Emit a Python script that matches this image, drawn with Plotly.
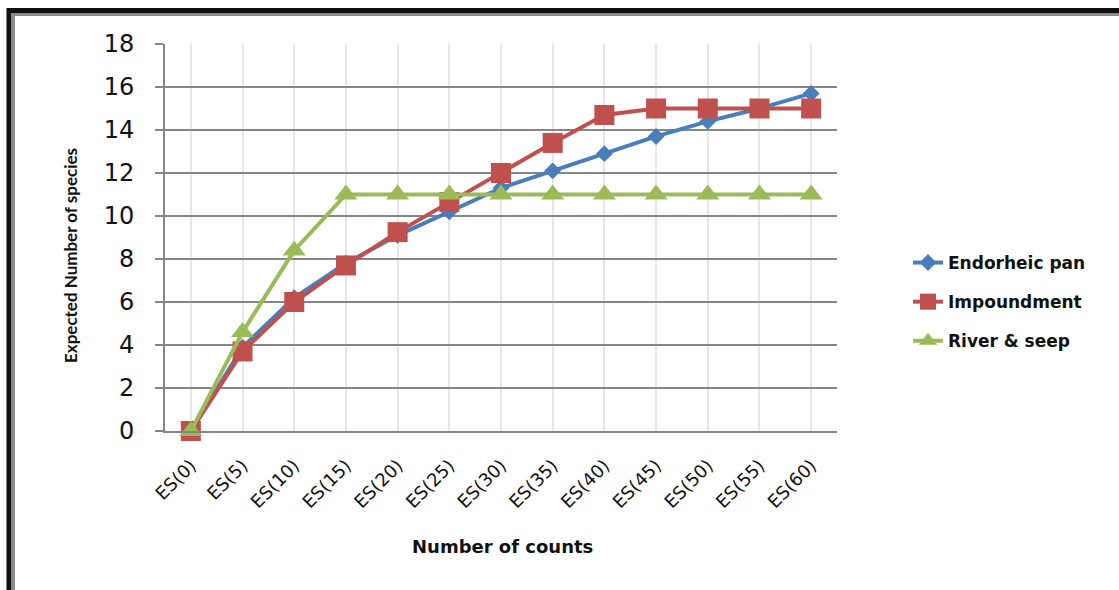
import plotly.graph_objects as go

# Rarefaction: expected number of species per habitat type
categories = ["ES(0)", "ES(5)", "ES(10)", "ES(15)", "ES(20)", "ES(25)", "ES(30)",
              "ES(35)", "ES(40)", "ES(45)", "ES(50)", "ES(55)", "ES(60)"]
endorheic_pan = [0, 3.9, 6.2, 7.8, 9.1, 10.2, 11.3, 12.1, 12.9, 13.7, 14.4, 15.0, 15.7]
impoundment = [0, 3.7, 6.0, 7.7, 9.25, 10.65, 12.0, 13.4, 14.7, 15.0, 15.0, 15.0, 15.0]
river_seep = [0, 4.6, 8.4, 11.0, 11.0, 11.0, 11.0, 11.0, 11.0, 11.0, 11.0, 11.0, 11.0]
y_ticks = [0, 2, 4, 6, 8, 10, 12, 14, 16, 18]

W, H = 1119, 590
L, R, T, B = 165, 837, 44, 431  # plot area in pixels

WIDE = "DejaVu Sans"
NARROW = "Lato"

def px_x(px):
    return (px - L) / (R - L)

def px_y(py):
    return (B - py) / (B - T)

fig = go.Figure()

series = [
    ("Endorheic pan", endorheic_pan, "#4A7EBB", "diamond", 13),
    ("Impoundment", impoundment, "#C0504D", "square", 20),
    ("River & seep", river_seep, "#9BBB59", "triangle-up", 20),
]
for name, vals, color, symbol, size in series:
    fig.add_trace(go.Scatter(
        x=list(range(len(categories))), y=vals, name="<b>" + name + "</b>",
        legendgroup=name, mode="lines+markers",
        line=dict(color=color, width=4),
        marker=dict(symbol=symbol, size=size, color=color),
        cliponaxis=False,
    ))

# Frame around the chart (top and left edges)
frame = [
    dict(x0=px_x(7), x1=px_x(W + 5), y0=px_y(10.5), y1=px_y(10.5), color="#111111", width=5),
    dict(x0=px_x(12), x1=px_x(W + 5), y0=px_y(14.5), y1=px_y(14.5), color="#8a8a8a", width=3),
    dict(x0=px_x(9), x1=px_x(9), y0=px_y(8), y1=px_y(H + 5), color="#111111", width=5),
    dict(x0=px_x(13.5), x1=px_x(13.5), y0=px_y(13), y1=px_y(H + 5), color="#8a8a8a", width=3),
]
for f in frame:
    fig.add_shape(type="line", xref="paper", yref="paper",
                  x0=f["x0"], x1=f["x1"], y0=f["y0"], y1=f["y1"],
                  line=dict(color=f["color"], width=f["width"]), layer="above")

fig.add_annotation(text="<b>Expected Number of species</b>", xref="paper", yref="paper",
                   x=px_x(70), y=px_y(256), xanchor="center", yanchor="middle",
                   textangle=-90, showarrow=False,
                   font=dict(family=NARROW, size=17, color="#111111"))
fig.add_annotation(text="<b>Number of counts</b>", xref="paper", yref="paper",
                   x=px_x(502), y=px_y(546), xanchor="center", yanchor="middle",
                   showarrow=False,
                   font=dict(family=WIDE, size=18, color="#111111"))

fig.update_layout(
    width=W, height=H,
    margin=dict(l=L, r=W - R, t=T, b=H - B, pad=0),
    paper_bgcolor="white", plot_bgcolor="white",
    font=dict(family=WIDE, color="#111111"),
    showlegend=True,
    legend=dict(x=px_x(908), y=px_y(245), xanchor="left", yanchor="top",
                font=dict(family=WIDE, size=17, color="#111111"),
                traceorder="grouped", tracegroupgap=14,
                bgcolor="rgba(0,0,0,0)"),
    xaxis=dict(
        range=[-0.5, len(categories) - 0.5],
        tickmode="array", tickvals=list(range(len(categories))), ticktext=categories,
        tickangle=-45, tickfont=dict(family=WIDE, size=18, color="#111111"),
        showgrid=True, gridcolor="#e6e6e6", gridwidth=2,
        showline=True, linecolor="#868686", linewidth=2,
        ticks="", zeroline=False,
        ticklabelstandoff=15,
    ),
    yaxis=dict(
        range=[0, 18], tickmode="array", tickvals=y_ticks,
        tickfont=dict(family=WIDE, size=24, color="#111111"),
        showgrid=True, gridcolor="#868686", gridwidth=2,
        showline=True, linecolor="#868686", linewidth=2,
        ticks="outside", ticklen=8, tickcolor="#868686", tickwidth=2,
        zeroline=False, ticklabelstandoff=16,
    ),
)

fig.write_html("out.html")
